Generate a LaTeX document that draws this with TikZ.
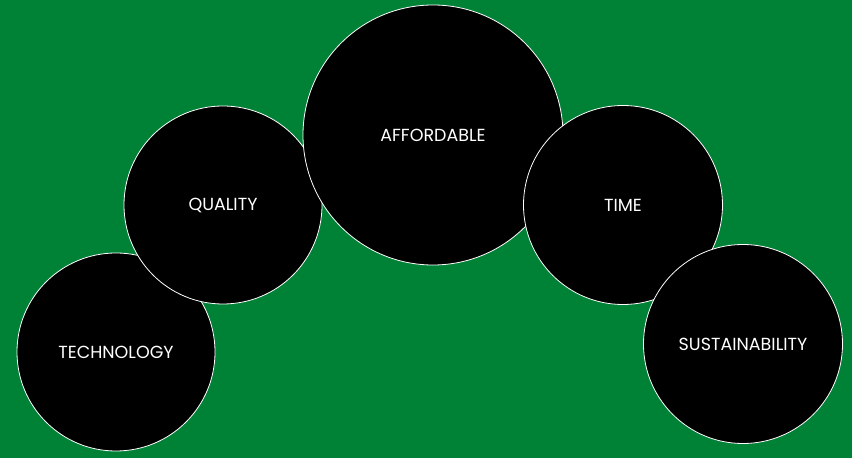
\documentclass[tikz,border=0pt]{standalone}
\usepackage{fontspec}
\setmainfont{Poppins}
\definecolor{bggreen}{HTML}{008236}
\begin{document}
\begin{tikzpicture}[x=1pt,y=1pt,
  bubble/.style={circle,fill=black,draw=white,line width=0.8pt,text=white,inner sep=0pt,font=\fontsize{17.5}{19}\selectfont},
]
\fill[bggreen] (0,0) rectangle (852,458);
\useasboundingbox (0,0) rectangle (852,458);
\node[bubble,minimum size=198pt] (tech) at (116,106) {TECHNOLOGY};
\node[bubble,minimum size=198pt] (qual) at (223,253) {QUALITY};
\node[bubble,minimum size=260pt] (aff) at (433,323) {AFFORDABLE};
\node[bubble,minimum size=199pt] (time) at (623,253) {TIME};
\node[bubble,minimum size=199pt] (sust) at (743,114) {SUSTAINABILITY};
\end{tikzpicture}
\end{document}
